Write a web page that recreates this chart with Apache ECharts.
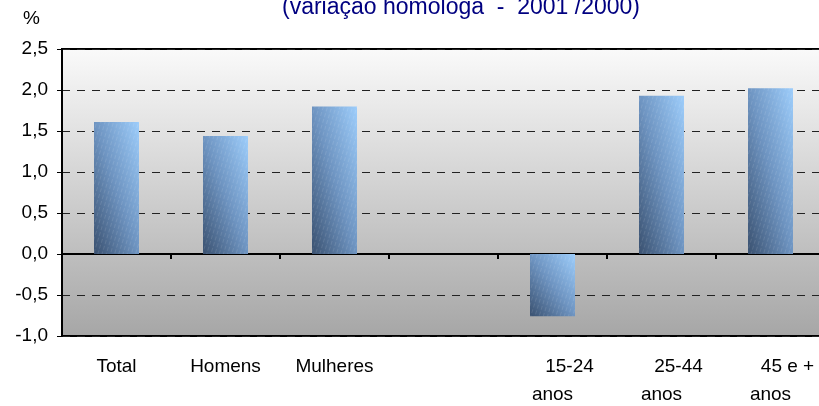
<!DOCTYPE html>
<html>
<head>
<meta charset="utf-8">
<script src="https://cdn.jsdelivr.net/npm/echarts@6/dist/echarts.min.js"></script>
<style>
html,body{margin:0;padding:0;background:#fff;}
#chart{width:819px;height:406px;}
</style>
</head>
<body>
<div id="chart"></div>
<script>
var categories = ['Total', 'Homens', 'Mulheres', '', '15-24 anos', '25-44 anos', '45 e + anos'];
var values = [1.61, 1.44, 1.80, null, -0.76, 1.93, 2.02];
var yTickLabels = ['-1,0', '-0,5', '0,0', '0,5', '1,0', '1,5', '2,0', '2,5'];
var titleText = '(variação homóloga  -  2001 /2000)';
var unitText = '%';

var FONT = '"Liberation Sans", Arial, sans-serif';
var BAR_W = 45;
var chart = echarts.init(document.getElementById('chart'), null, {renderer: 'canvas'});

function barGradient(h) {
  // diagonal gradient whose isolines follow the bar's top-left/bottom-right diagonal
  var w = BAR_W, L2 = h * h + w * w;
  var ax = (h * h) / L2, ay = (w * w) / L2;
  return new echarts.graphic.LinearGradient(0.5 - ax, 0.5 + ay, 0.5 + ax, 0.5 - ay, [
    {offset: 0, color: '#3a5170'},
    {offset: 0.5, color: '#6e94c1'},
    {offset: 1, color: '#9dcdfb'}
  ]);
}

var decal = {
  symbol: 'rect', color: 'rgba(255,255,255,0.10)', backgroundColor: null,
  dashArrayX: [1, 3], dashArrayY: [4, 2], rotation: 0.3, symbolSize: 1
};

var option = {
  animation: false,
  backgroundColor: '#ffffff',
  graphic: [
    {type: 'text', left: 282, top: -4, style: {text: titleText, fill: '#000080', font: '23px ' + FONT}},
    {type: 'text', left: 23, top: 9, style: {text: unitText, fill: '#000', font: '19px ' + FONT}}
  ],
  grid: {
    left: 62, top: 49, width: 763, height: 287,
    outerBoundsMode: 'none',
    containLabel: false,
    show: true,
    borderColor: '#000', borderWidth: 2,
    backgroundColor: new echarts.graphic.LinearGradient(0, 0, 0, 1, [
      {offset: 0, color: '#fafafa'},
      {offset: 1, color: '#a6a6a6'}
    ])
  },
  xAxis: [
    {
      type: 'category', data: categories, position: 'bottom',
      axisLine: {show: false, onZero: false},
      axisTick: {show: false},
      splitLine: {show: false},
      axisLabel: {
        interval: 0, margin: 17, color: '#000', fontFamily: FONT, fontSize: 19, lineHeight: 28,
        formatter: function (v) {
          var i = v.indexOf(' anos');
          if (i >= 0) return '{a|' + v.slice(0, i) + '}\n{b|anos}';
          return v;
        },
        rich: {
          a: {fontFamily: FONT, fontSize: 19, lineHeight: 28, color: '#000', padding: [0, 0, 0, 34]},
          b: {fontFamily: FONT, fontSize: 19, lineHeight: 28, color: '#000'}
        }
      }
    },
    {
      type: 'category', data: categories, position: 'bottom',
      axisLine: {show: true, onZero: true, lineStyle: {color: '#000', width: 2}},
      axisTick: {show: true, length: 5, lineStyle: {color: '#000', width: 2}},
      axisLabel: {show: false},
      splitLine: {show: false}
    }
  ],
  yAxis: {
    type: 'value', min: -1, max: 2.5, interval: 0.5,
    axisLine: {show: true, lineStyle: {color: '#000', width: 2}},
    axisTick: {show: true, length: 5, lineStyle: {color: '#000', width: 1}},
    axisLabel: {
      margin: 14, color: '#000', fontFamily: FONT, fontSize: 19,
      formatter: function (v, i) { return yTickLabels[i]; }
    },
    splitLine: {show: true, lineStyle: {color: '#222', width: 1, type: [8, 7]}}
  },
  series: [{
    type: 'bar',
    data: values,
    barWidth: BAR_W,
    xAxisIndex: 0,
    itemStyle: {color: '#6e94c1', decal: decal}
  }]
};
chart.setOption(option);

// per-bar diagonal gradient sized from the library's own value scale
var zeroPx = chart.convertToPixel({yAxisIndex: 0}, 0);
var styled = values.map(function (v) {
  if (v === null) return null;
  var h = Math.abs(chart.convertToPixel({yAxisIndex: 0}, v) - zeroPx);
  return {value: v, itemStyle: {color: barGradient(h), decal: decal}};
});
chart.setOption({series: [{data: styled}]});
</script>
</body>
</html>
